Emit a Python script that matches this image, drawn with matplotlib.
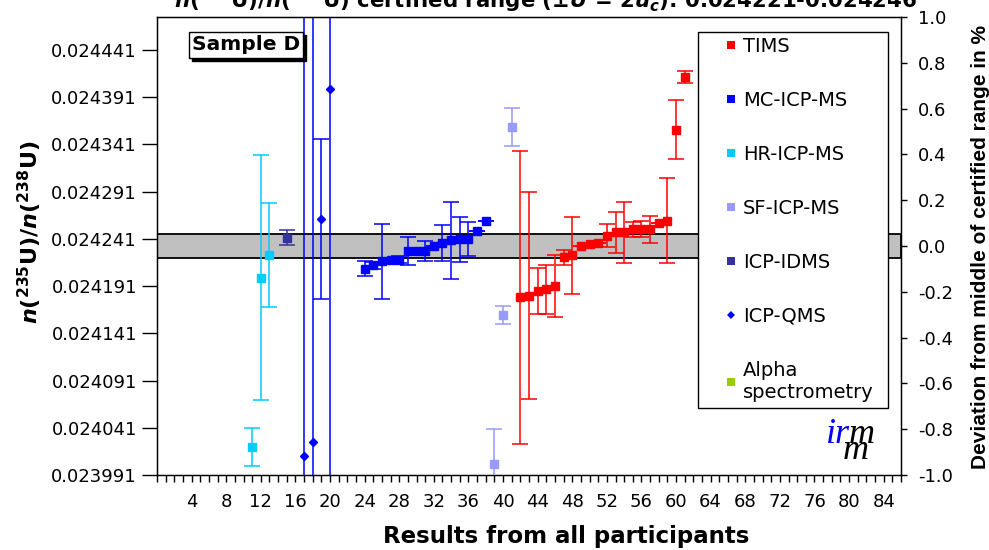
import numpy as np
import matplotlib
matplotlib.use("Agg")
import matplotlib.pyplot as plt
import matplotlib.transforms as mtransforms
from matplotlib.lines import Line2D
from matplotlib.patches import Rectangle
from matplotlib.ticker import FixedLocator, FuncFormatter

# ---- data -----------------------------------------------------------------
cert_low, cert_high = 0.024221, 0.024246
y_min, y_max = 0.023991, 0.024476
ratio_ticks = [0.023991, 0.024041, 0.024091, 0.024141, 0.024191,
               0.024241, 0.024291, 0.024341, 0.024391, 0.024441]
dev_ticks = [-1.0, -0.8, -0.6, -0.4, -0.2, 0.0, 0.2, 0.4, 0.6, 0.8, 1.0]
x_labels = list(range(4, 85, 4))

hr_x = [11, 12, 13]
hr_y = [0.024021, 0.024200, 0.024224]
hr_err = [0.0000203, 0.000130, 0.000055]

idms_x = [15]
idms_y = [0.0242423]
idms_err = [0.0000081]

qms_x = [17, 18, 19, 20]
qms_y = [0.0240111, 0.0240259, 0.0242621, 0.0244000]
qms_err = [0.0005, 0.0005, 0.000085, 0.0005]

mc_x = list(range(24, 39))
mc_y = [0.0242094, 0.0242130, 0.0242176, 0.0242187, 0.0242190, 0.0242282,
        0.0242285, 0.0242285, 0.0242338, 0.0242367, 0.0242395, 0.0242405,
        0.0242412, 0.0242497, 0.0242603]
mc_err = [0.0000081, 0.000004, 0.0000397, 0.0, 0.000004, 0.0000153, 0.0,
          0.0000108, 0.0, 0.0000187, 0.0000407, 0.000024, 0.000018, 0.0, 0.0]

sf_x = [39, 40, 41]
sf_y = [0.0240023, 0.0241604, 0.0243598]
sf_err = [0.0000375, 0.00001, 0.00002]

tims_x = list(range(42, 62))
tims_y = [0.0241792, 0.0241806, 0.0241858, 0.0241876, 0.0241914, 0.0242215,
          0.0242236, 0.0242335, 0.0242360, 0.0242363, 0.0242444, 0.0242480,
          0.0242480, 0.0242512, 0.0242512, 0.0242512, 0.0242583, 0.0242603,
          0.0243566, 0.0244127]
tims_err = [0.000155, 0.0001096, 0.000024, 0.0000258, 0.000033, 0.0000079,
            0.0000407, 0.0, 0.0, 0.0, 0.000012, 0.000022, 0.000032, 0.000008,
            0.0000083, 0.000014, 0.0, 0.0000448, 0.0000312, 0.0000063]

colors = {
    "TIMS": "#FF0000",
    "MC-ICP-MS": "#0000FF",
    "HR-ICP-MS": "#00CCFF",
    "SF-ICP-MS": "#9999FF",
    "ICP-IDMS": "#333399",
    "ICP-QMS": "#0000FF",
    "Alpha\nspectrometry": "#99CC00",
}

# ---- style ----------------------------------------------------------------
plt.rcParams["font.family"] = ["DejaVu Sans"]
plt.rcParams["mathtext.fontset"] = "custom"
plt.rcParams["mathtext.rm"] = "DejaVu Sans:bold"
plt.rcParams["mathtext.bf"] = "DejaVu Sans:bold"
plt.rcParams["mathtext.it"] = "DejaVu Sans:italic:bold"

PX = 72 / 100  # points per pixel at 100 dpi

fig = plt.figure(figsize=(9.89, 5.5), dpi=100)
L, R, B, T = 157 / 989, 901 / 989, 1 - 475 / 550, 1 - 17 / 550
ax = fig.add_axes([L, B, R - L, T - B])

# certified range band
ax.axhspan(cert_low, cert_high, facecolor="#C0C0C0", edgecolor="black",
           linewidth=1.3, zorder=1)


def series(x, y, err, name, marker="s", ms=6.0):
    c = colors[name]
    ax.errorbar(x, y, yerr=err, fmt=marker, color=c, ecolor=c,
                markersize=ms, markeredgecolor=c, elinewidth=1.1,
                capsize=5.5, capthick=1.1, zorder=3)


series(hr_x, hr_y, hr_err, "HR-ICP-MS")
series(idms_x, idms_y, idms_err, "ICP-IDMS")
series(qms_x, qms_y, qms_err, "ICP-QMS", marker="D", ms=4.5)
series(mc_x, mc_y, mc_err, "MC-ICP-MS")
series(sf_x, sf_y, sf_err, "SF-ICP-MS")
series(tims_x, tims_y, tims_err, "TIMS")

ax.set_xlim(0, 86)
ax.set_ylim(y_min, y_max)

ax.xaxis.set_major_locator(FixedLocator(range(0, 87)))
ax.xaxis.set_major_formatter(
    FuncFormatter(lambda v, p: f"{int(round(v))}" if int(round(v)) in x_labels else ""))
ax.tick_params(axis="x", direction="out", length=7 * PX, width=1, pad=8,
               labelsize=13)

ax.yaxis.set_major_locator(FixedLocator(ratio_ticks))
ax.yaxis.set_major_formatter(FuncFormatter(lambda v, p: f"{v:.6f}"))
ax.tick_params(axis="y", direction="out", length=15 * PX, width=1,
               pad=5 * PX, labelsize=13, right=False)

for s in ax.spines.values():
    s.set_linewidth(1.0)
    s.set_color("black")

# right-hand deviation axis
ax2 = ax.twinx()
ax2.set_ylim(-1.0, 1.0)
ax2.yaxis.set_major_locator(FixedLocator(dev_ticks))
ax2.yaxis.set_major_formatter(
    FuncFormatter(lambda v, p: f"{abs(v):.1f}" if abs(v) < 1e-9 else f"{v:.1f}"))
ax2.tick_params(axis="y", direction="out", length=6 * PX, width=1,
                pad=11 * PX, labelsize=13)

# axis titles
fig.text(566 / 989, 1 - 537 / 550, "Results from all participants",
         ha="center", va="center", fontsize=16.5, fontweight="bold")
fig.text(30 / 989, 1 - 232 / 550,
         r"$n(^{235}\mathrm{U})/n(^{238}\mathrm{U})$",
         ha="center", va="center", rotation=90, fontsize=16)
fig.text(980 / 989, 1 - 247 / 550,
         "Deviation from middle of certified range in %",
         ha="center", va="center", rotation=90, fontsize=15,
         fontweight="bold", family="Liberation Sans")
fig.text(546 / 989, 1 - 8 / 550,
         r"$n(^{235}\mathrm{U})/n(^{238}\mathrm{U})$ certified range "
         r"(±$U$ = 2$u_{c}$): 0.024221-0.024246",
         ha="center", va="baseline", fontsize=15.3, fontweight="bold")

# sample tag with drop shadow
shadow_tr = mtransforms.offset_copy(fig.transFigure, fig=fig, x=3, y=-3,
                                    units="dots")
tag_kw = dict(ha="center", va="center", fontsize=14.5, fontweight="bold")
fig.text(246 / 989, 1 - 45 / 550, "Sample D", color="black", transform=shadow_tr,
         bbox=dict(boxstyle="square,pad=0.17", facecolor="black",
                   edgecolor="black"), **tag_kw)
fig.text(246 / 989, 1 - 45 / 550, "Sample D", color="black",
         bbox=dict(boxstyle="square,pad=0.17", facecolor="white",
                   edgecolor="black", linewidth=1.0), **tag_kw)

# legend box
fig.add_artist(Rectangle((698 / 989, 1 - 408 / 550), 190 / 989, 376 / 550,
                         transform=fig.transFigure, facecolor="white",
                         edgecolor="black", linewidth=1.0, zorder=2))
handles = []
for name, c in colors.items():
    mk = "D" if name == "ICP-QMS" else "s"
    handles.append(Line2D([], [], linestyle="none", marker=mk, color=c,
                          markersize=4.5 if mk == "D" else 5.5,
                          markeredgewidth=0))
leg = fig.legend(handles, list(colors.keys()), loc="upper left",
                 bbox_to_anchor=(721 / 989, 1 - 37 / 550),
                 bbox_transform=fig.transFigure, frameon=False,
                 fontsize=14, borderpad=0, borderaxespad=0,
                 handlelength=1.0, handletextpad=0.12, labelspacing=1.8)
leg.set_zorder(3)

# institute mark
mark_kw = dict(fontsize=26, family="Liberation Serif", style="italic",
               va="baseline", ha="left")
fig.text(826 / 989, 1 - 443 / 550, "ir", color="#0000FF", **mark_kw)
fig.text(849 / 989, 1 - 443 / 550, "m", color="black", **mark_kw)
fig.text(843 / 989, 1 - 459 / 550, "m", color="black", **mark_kw)

fig.savefig("out.png", dpi=100)
